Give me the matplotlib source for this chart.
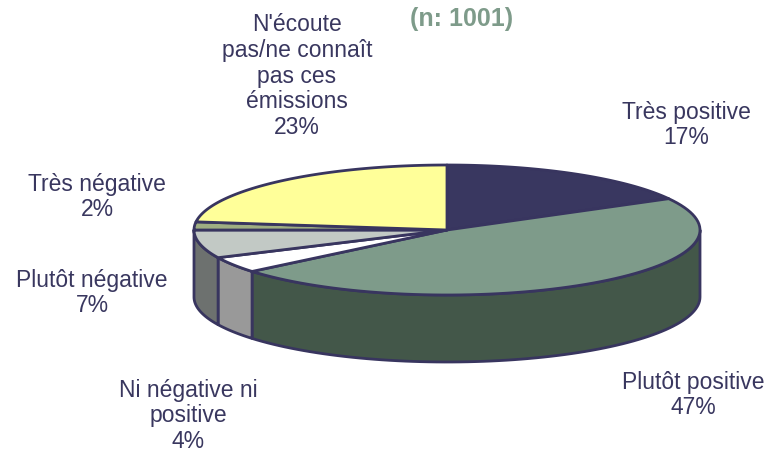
import matplotlib.pyplot as plt
import numpy as np
from matplotlib.patches import Polygon

# data
labels = ["Très positive", "Plutôt positive", "Ni négative ni\npositive",
          "Plutôt négative", "Très négative",
          "N'écoute\npas/ne connaît\npas ces\némissions"]
shares = [17, 47, 4, 7, 2, 23]
top_colors = ["#393760", "#7e9b8a", "#ffffff", "#c2c9c5", "#9fae82", "#ffff99"]
side_colors = ["#24223f", "#435749", "#999999", "#6d716f", "#66704f", "#a8a860"]
label_pos = [(686, 125), (693, 395), (188, 416), (92, 293), (97, 197), (297, 76)]

text_color = "#39375f"
edge = "#38355f"

# pie geometry in pixels
cx, cy, rx, ry, depth = 447, 231, 253, 65, 67

plt.rcParams['font.family'] = ['Liberation Sans', 'DejaVu Sans']
fig = plt.figure(figsize=(7.72, 4.56), dpi=100)
ax = fig.add_axes([0, 0, 1, 1])
ax.set_xlim(0, 772)
ax.set_ylim(456, 0)
ax.axis('off')


def arc(t0, t1, n=80):
    t = np.radians(np.linspace(t0, t1, n))
    return np.column_stack([cx + rx * np.cos(t), cy - ry * np.sin(t)])


# slice angles, clockwise from 12 o'clock
ends = 90 - 360 * np.cumsum(shares) / 100
starts = np.concatenate([[90], ends[:-1]])

# side walls: only the front half (angles between -180 and 0) shows
for s, e, c in zip(starts, ends, side_colors):
    a0, a1 = min(s, 0), max(e, -180)
    if a0 <= a1:
        continue
    top = arc(a0, a1)
    bottom = top[::-1] + [0, depth]
    ax.add_patch(Polygon(np.vstack([top, bottom]), closed=True,
                         fc=c, ec=edge, lw=2, joinstyle='round'))

# top faces
for s, e, c in zip(starts, ends, top_colors):
    pts = np.vstack([[cx, cy], arc(s, e)])
    ax.add_patch(Polygon(pts, closed=True, fc=c, ec=edge, lw=2,
                         joinstyle='round'))

for lab, pct, (x, y) in zip(labels, shares, label_pos):
    ax.text(x, y, f"{lab}\n{pct}%", ha='center', va='center',
            fontsize=16.5, color=text_color, linespacing=1.15)

ax.text(462, 19, "(n: 1001)", ha='center', va='center', fontsize=18,
        fontweight='bold', color="#7e9b8a")

fig.savefig("out.png", dpi=100)
